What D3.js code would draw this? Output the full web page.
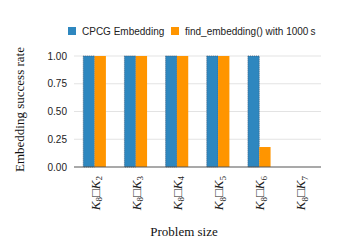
<!DOCTYPE html>
<html>
<head>
<meta charset="utf-8">
<script src="https://cdn.jsdelivr.net/npm/d3@7"></script>
<style>
body { margin: 0; background: #fff; }
</style>
</head>
<body>
<div id="chart"></div>
<script>
var subscripts = ["2", "3", "4", "5", "6", "7"];
var cpcg = [1, 1, 1, 1, 1, 0];
var findEmb = [1, 1, 1, 1, 0.18, 0];
var yTicks = [0, 0.25, 0.5, 0.75, 1];
var seriesNames = ["CPCG Embedding", "find_embedding() with 1000\u2009s"];
var colors = ["#2e87bf", "#ff9500"];

var width = 354, height = 246;
var margin = {top: 56, right: 33, bottom: 79, left: 74};

var svg = d3.select("#chart").append("svg")
    .attr("width", width).attr("height", height);

var x = d3.scaleBand()
    .domain(subscripts)
    .range([margin.left, width - margin.right])
    .paddingInner(0.45).paddingOuter(0.225);

var xs = d3.scaleBand()
    .domain([0, 1])
    .range([0, x.bandwidth()]);

var y = d3.scaleLinear()
    .domain([0, 1])
    .range([height - margin.bottom, margin.top]);

// grid
svg.append("g")
    .selectAll("line").data(yTicks.slice(1)).join("line")
    .attr("x1", margin.left).attr("x2", width - margin.right)
    .attr("y1", d => y(d)).attr("y2", d => y(d))
    .attr("stroke", "#e3e3e3").attr("stroke-width", 1);

// y labels
svg.append("g")
    .selectAll("text").data(yTicks).join("text")
    .attr("x", margin.left - 7).attr("y", d => y(d))
    .attr("dy", "0.35em").attr("text-anchor", "end")
    .attr("font-family", "Liberation Sans, Arial, sans-serif")
    .attr("font-size", 10).attr("fill", "#222")
    .text(d => d3.format(".2f")(d));

var rows = subscripts.map((s, i) => ({s: s, v: [cpcg[i], findEmb[i]]}));

var groups = svg.append("g").selectAll("g").data(rows).join("g")
    .attr("transform", d => "translate(" + x(d.s) + ",0)");

groups.selectAll("rect").data(d => d.v.map((v, k) => ({k: k, v: v}))).join("rect")
    .filter(d => d.v > 0)
    .attr("x", d => xs(d.k))
    .attr("width", xs.bandwidth())
    .attr("y", d => y(d.v))
    .attr("height", d => y(0) - y(d.v))
    .attr("fill", d => colors[d.k])
    .attr("stroke", d => d.k === 0 ? "#3a5a78" : "none")
    .attr("stroke-width", 0.8)
    .attr("stroke-dasharray", "1,1");

// baseline
svg.append("line")
    .attr("x1", margin.left).attr("x2", width - margin.right)
    .attr("y1", y(0)).attr("y2", y(0))
    .attr("stroke", "#555").attr("stroke-width", 1.2);

// x labels
var xl = svg.append("g").selectAll("text").data(subscripts).join("text")
    .attr("transform", d => "translate(" + (x(d) + x.bandwidth() / 2 + 5) + "," + (y(0) + 9) + ") rotate(-90)")
    .attr("text-anchor", "end")
    .attr("font-family", "Liberation Serif, Times New Roman, serif")
    .attr("font-size", 13).attr("fill", "#222");
xl.append("tspan").attr("font-style", "italic").text("K");
xl.append("tspan").attr("font-size", 9).attr("dy", 2.5).text("8");
xl.append("tspan").attr("dy", -2.5).text("\u25A1");
xl.append("tspan").attr("font-style", "italic").text("K");
xl.append("tspan").attr("font-size", 9).attr("dy", 2.5).text(d => d);

// axis titles
svg.append("text")
    .attr("x", 184).attr("y", 236)
    .attr("text-anchor", "middle")
    .attr("font-family", "Liberation Serif, Times New Roman, serif")
    .attr("font-size", 13).attr("fill", "#111")
    .text("Problem size");

svg.append("text")
    .attr("transform", "translate(24," + ((margin.top + height - margin.bottom) / 2 - 2) + ") rotate(-90)")
    .attr("text-anchor", "middle")
    .attr("font-family", "Liberation Serif, Times New Roman, serif")
    .attr("font-size", 13).attr("fill", "#111")
    .text("Embedding success rate");

// legend
var legX = [68, 171];
var leg = svg.append("g").selectAll("g").data(seriesNames).join("g")
    .attr("transform", (d, i) => "translate(" + legX[i] + ",27)");
leg.append("rect").attr("width", 8).attr("height", 8)
    .attr("fill", (d, i) => colors[i]);
leg.append("text").attr("x", 14).attr("y", 4).attr("dy", "0.35em")
    .attr("font-family", "Liberation Sans, Arial, sans-serif")
    .attr("font-size", 10).attr("fill", "#222")
    .text(d => d);
</script>
</body>
</html>
